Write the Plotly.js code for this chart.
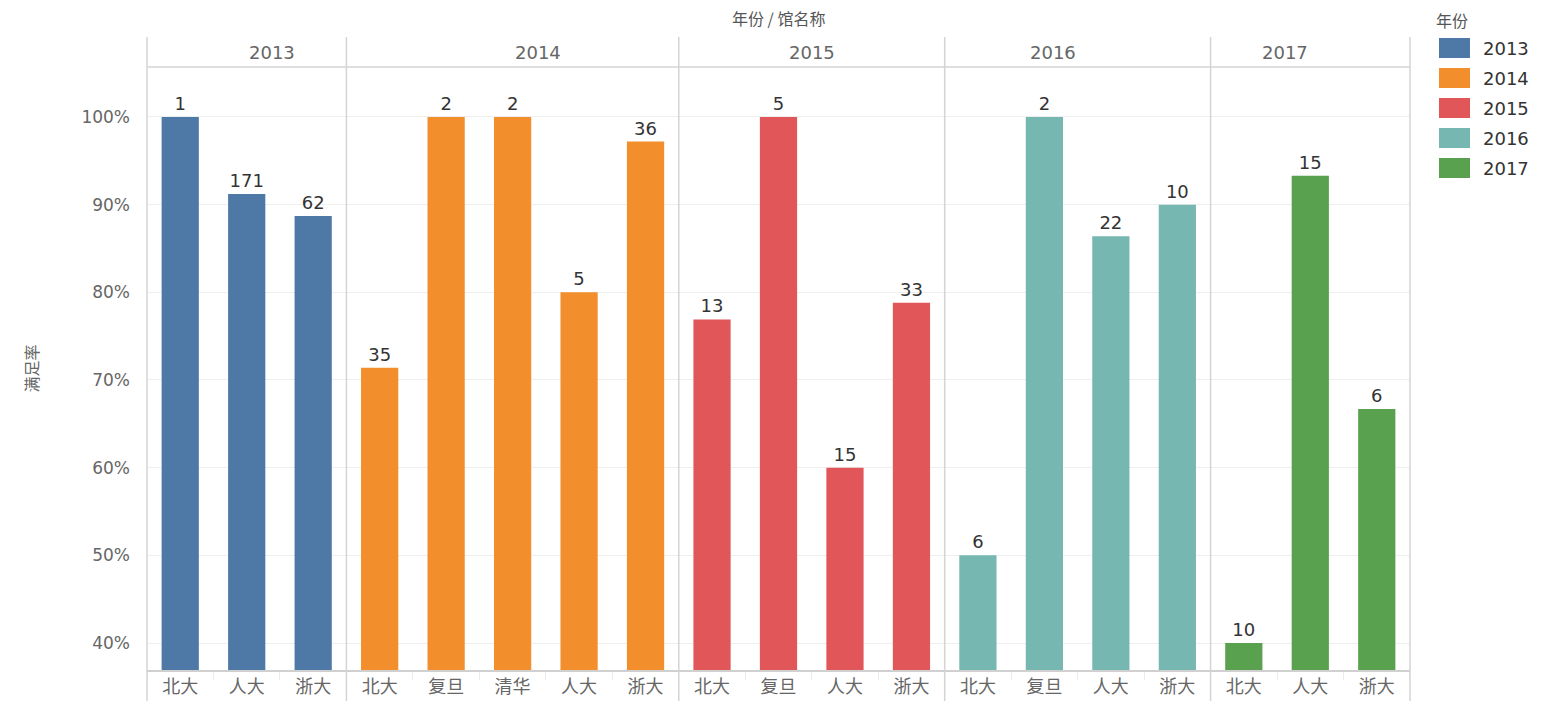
<!DOCTYPE html>
<html><head><meta charset="utf-8">
<script src="https://cdn.plot.ly/plotly-3.0.1.min.js"></script>
<style>html,body{margin:0;padding:0;background:#fff}</style>
</head><body>
<div id="chart" style="width:1547px;height:701px"></div>
<script>
const years = ['2013','2014','2015','2016','2017'];
const colors = ['#4e79a7','#f28e2b','#e15759','#76b7b2','#59a14f'];
const libs2013 = ['北大','人大','浙大'];
const rate2013 = [100, 91.2, 88.7];
const count2013 = [1, 171, 62];
const libs2014 = ['北大','复旦','清华','人大','浙大'];
const rate2014 = [71.4, 100, 100, 80, 97.2];
const count2014 = [35, 2, 2, 5, 36];
const libs2015 = ['北大','复旦','人大','浙大'];
const rate2015 = [76.9, 100, 60, 78.8];
const count2015 = [13, 5, 15, 33];
const libs2016 = ['北大','复旦','人大','浙大'];
const rate2016 = [50, 100, 86.4, 90];
const count2016 = [6, 2, 22, 10];
const libs2017 = ['北大','人大','浙大'];
const rate2017 = [40, 93.3, 66.7];
const count2017 = [10, 15, 6];
const yTicks = [40,50,60,70,80,90,100];
const yTickText = ['40%','50%','60%','70%','80%','90%','100%'];

const libs = [libs2013, libs2014, libs2015, libs2016, libs2017];
const rates = [rate2013, rate2014, rate2015, rate2016, rate2017];
const counts = [count2013, count2014, count2015, count2016, count2017];

const W = 1547, H = 701;
const M = {l:147, r:137, t:67, b:31};
const PW = W - M.l - M.r, PH = H - M.t - M.b;
const px2x = p => (p - M.l) / PW;
const py2y = p => (H - M.b - p) / PH;

const NUMFONT = 'DejaVu Sans, sans-serif';
const CJK = 'Noto Sans CJK SC, sans-serif';
const total = libs.reduce((s,a)=>s+a.length,0);
const traces = [], layout = {
  width: W, height: H, margin: M, showlegend: false,
  paper_bgcolor:'#fff', plot_bgcolor:'#fff',
  bargap: 0.44,
  font:{family:NUMFONT, color:'#666'},
  yaxis:{range:[36.92,105.7], tickmode:'array', tickvals:yTicks, ticktext:yTickText, showgrid:true,
    gridcolor:'#efefef', zeroline:false, ticks:'', ticklabelstandoff:16,
    tickfont:{size:17, color:'#666', family:NUMFONT},
    title:{text:'满足率', font:{size:16, color:'#666', family:CJK}, standoff:38}},
  shapes:[], annotations:[]
};
let start = 0;
const bounds = [0];
years.forEach((yr,i)=>{
  const n = libs[i].length;
  const d0 = start/total, d1 = (start+n)/total;
  start += n; bounds.push(d1);
  const ax = i===0 ? 'xaxis' : 'xaxis'+(i+1);
  layout[ax] = {domain:[d0,d1], anchor:'y', type:'category', showgrid:false,
    showline:true, linecolor:'#d0d0d0', linewidth:1.5, zeroline:false,
    tickson:'boundaries', ticks:'outside', ticklen:8, tickcolor:'#ececec',
    tickfont:{size:18, color:'#666', family:CJK}, fixedrange:true};
  traces.push({type:'bar', x:libs[i], y:rates[i], xaxis: i===0?'x':'x'+(i+1), yaxis:'y',
    marker:{color:colors[i]}, text:counts[i].map(String), textposition:'outside',
    cliponaxis:false, textfont:{size:18, color:'#333', family:NUMFONT}, hoverinfo:'skip'});
  layout.annotations.push({xref:'paper', yref:'paper', x:(d0+d1)/2, y:py2y(52),
    text:yr, showarrow:false, font:{size:18, color:'#666', family:NUMFONT}, yanchor:'middle'});
});
// facet separators
bounds.forEach(b=>{
  layout.shapes.push({type:'line', xref:'paper', yref:'paper', x0:b, x1:b,
    y0:py2y(H), y1:py2y(37), line:{color:'#d4d4d4', width:1.5}});
});
layout.shapes.push({type:'line', xref:'paper', yref:'paper', x0:0, x1:1, y0:1, y1:1,
  line:{color:'#d4d4d4', width:1.5}});
// overall header
layout.annotations.push({xref:'paper', yref:'paper', x:0.5, y:py2y(18), text:'年份 / 馆名称',
  showarrow:false, font:{size:16, color:'#555', family:CJK}, yanchor:'middle'});
// legend (manual)
layout.annotations.push({xref:'paper', yref:'paper', x:px2x(1434), y:py2y(20), text:'年份',
  xanchor:'left', yanchor:'middle', showarrow:false, font:{size:16, color:'#555', family:CJK}});
years.forEach((yr,i)=>{
  const cy = 48 + 30*i;
  layout.shapes.push({type:'rect', xref:'paper', yref:'paper', x0:px2x(1439), x1:px2x(1470),
    y0:py2y(cy+10), y1:py2y(cy-10), fillcolor:colors[i], line:{width:0}});
  layout.annotations.push({xref:'paper', yref:'paper', x:px2x(1481), y:py2y(cy), text:yr,
    xanchor:'left', yanchor:'middle', showarrow:false, font:{size:18, color:'#333', family:NUMFONT}});
});
Plotly.newPlot('chart', traces, layout, {displayModeBar:false, staticPlot:true});
</script>
</body></html>
